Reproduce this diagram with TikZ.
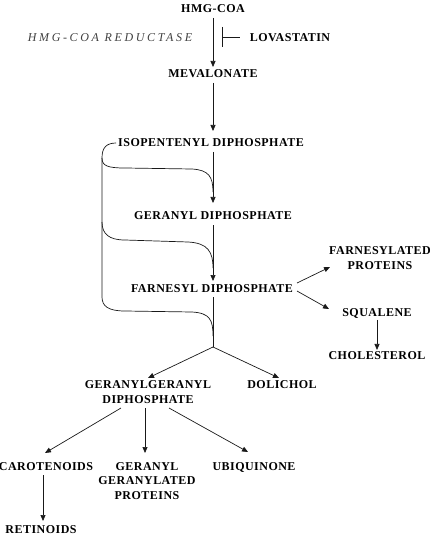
\documentclass[tikz,border=0pt]{standalone}
\usepackage{fontspec}
\setmainfont{Liberation Serif}
\usetikzlibrary{arrows.meta}
\begin{document}
\begin{tikzpicture}[x=1pt,y=-1pt,
  lbl/.style={font=\fontsize{12}{14.5}\selectfont\bfseries\addfontfeatures{LetterSpace=4}, inner sep=2pt, outer sep=0pt, align=center},
  enz/.style={font=\fontsize{12}{14}\selectfont\itshape\addfontfeatures{LetterSpace=22}, text=black!75, inner sep=2pt},
  ln/.style={draw=black!90, line width=0.7pt},
  arr/.style={ln, -{Triangle[length=6pt,width=5pt]}}]
\useasboundingbox (0,0) rectangle (430,537);
\node[lbl] (hmg) at (213,9) {HMG-COA};
\node[enz] (red) at (110,38) {HMG-COA REDUCTASE};
\node[lbl] (lov) at (290,38) {LOVASTATIN};
\node[lbl] (mev) at (213,74) {MEVALONATE};
\node[lbl] (ipp) at (211,143) {ISOPENTENYL DIPHOSPHATE};
\node[lbl] (gpp) at (213,216) {GERANYL DIPHOSPHATE};
\node[lbl] (fpp) at (212,289) {FARNESYL DIPHOSPHATE};
\node[lbl] (fp) at (380,258) {FARNESYLATED\\PROTEINS};
\node[lbl] (sq) at (377,313) {SQUALENE};
\node[lbl] (chol) at (377,356) {CHOLESTEROL};
\node[lbl] (ggpp) at (148,392) {GERANYLGERANYL\\DIPHOSPHATE};
\node[lbl] (dol) at (282,385) {DOLICHOL};
\node[lbl] (car) at (46,467) {CAROTENOIDS};
\node[lbl] (ggp) at (147,481) {GERANYL\\GERANYLATED\\PROTEINS};
\node[lbl] (ubi) at (254,467) {UBIQUINONE};
\node[lbl] (ret) at (41,530) {RETINOIDS};
% coordinates
\coordinate (h1) at (213,18);
\coordinate (m0) at (213,67);
\coordinate (m1) at (213,83);
\coordinate (i0) at (213,131);
\coordinate (i1) at (213,152);
\coordinate (g0) at (213,203);
\coordinate (g1) at (213,225);
\coordinate (f0) at (213,281);
\coordinate (f1) at (213,297);
\coordinate (br) at (213,347);
\coordinate (ib1) at (222,27);
\coordinate (ib2) at (222,47);
\coordinate (ibm) at (222,37);
\coordinate (lv) at (240,37);
% main chain
\draw[arr] (h1) -- (m0);
\draw[ln] (ib1) -- (ib2);
\draw[ln] (ibm) -- (lv);
\draw[arr] (m1) -- (i0);
\draw[arr] (i1) -- (g0);
\draw[arr] (g1) -- (f0);
\draw[ln] (f1) -- (br);
\draw[arr] (br) -- (148,378);
\draw[arr] (br) -- (279,378);
% bracket curves
\draw[ln] (ipp.west) .. controls (106,143) and (102,148) .. (102,158) -- (102,297)
  .. controls (102,306) and (108,311) .. (125,311) -- (192,312)
  .. controls (210,313) and (213,320) .. (213,336);
\draw[ln] (102,158) .. controls (102,166) and (108,168) .. (125,168) -- (192,169)
  .. controls (209,170) and (213,177) .. (213,192);
\draw[ln] (102,222) .. controls (102,234) and (109,240) .. (125,240) -- (188,242)
  .. controls (208,243) and (213,252) .. (213,268);
% farnesyl branches
\draw[arr] (297,283) -- (330,267);
\draw[arr] (297,291) -- (329,309);
\draw[arr] (sq.south) -- (chol.north);
% ggpp branches
\draw[arr] (121,408) -- (45,453);
\draw[arr] (145,408) -- (145,453);
\draw[arr] (169,408) -- (248,452);
\draw[arr] (43,475) -- (43,521);
\end{tikzpicture}
\end{document}
